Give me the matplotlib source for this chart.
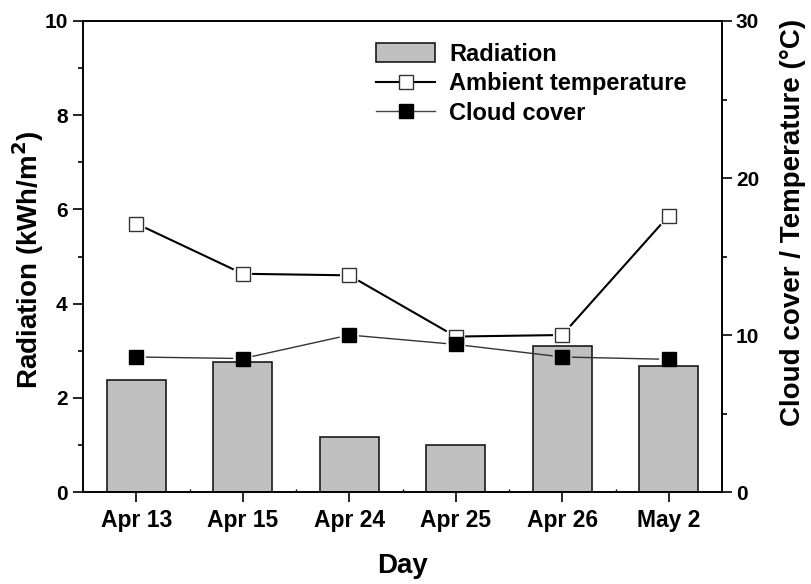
import matplotlib
matplotlib.use('Agg')
import matplotlib.pyplot as plt
import numpy as np
from matplotlib.lines import Line2D
from matplotlib.patches import Patch
from matplotlib.ticker import MultipleLocator, FixedLocator

# ---- data ----
days = ['Apr 13', 'Apr 15', 'Apr 24', 'Apr 25', 'Apr 26', 'May 2']
radiation = [2.38, 2.77, 1.16, 1.00, 3.11, 2.67]          # kWh/m2 (left axis)
temperature = [17.1, 13.9, 13.8, 9.9, 10.0, 17.6]        # deg C (right axis)
cloud_cover = [8.6, 8.5, 10.0, 9.4, 8.6, 8.45]           # right axis

plt.rcParams['font.family'] = ['Liberation Sans', 'DejaVu Sans']
plt.rcParams['font.weight'] = 'bold'
plt.rcParams['mathtext.default'] = 'bf'

W, H = 811, 584
fig = plt.figure(figsize=(W / 100, H / 100), dpi=100)
L, R, T, B = 83, 722, 21, 492
ax = fig.add_axes([L / W, 1 - B / H, (R - L) / W, (B - T) / H])

x = np.arange(len(days))
ax.bar(x, radiation, width=0.55, color='#c0c0c0', edgecolor='#1a1a1a',
       linewidth=1.2, zorder=2)
ax.set_xlim(-0.5, len(days) - 0.5)
ax.set_ylim(0, 10)

ax2 = ax.twinx()
ax2.set_ylim(0, 30)

for a in (ax, ax2):
    for s in a.spines.values():
        s.set_linewidth(1.2)

# ticks
ax.set_xticks(x)
ax.set_xticklabels(days)
ax.xaxis.set_minor_locator(FixedLocator(x[:-1] + 0.5))
ax.yaxis.set_major_locator(MultipleLocator(2))
ax.yaxis.set_minor_locator(MultipleLocator(1))
ax2.yaxis.set_major_locator(MultipleLocator(10))
ax2.yaxis.set_minor_locator(MultipleLocator(5))

ax.tick_params(axis='y', which='major', direction='out', length=7, width=1.2,
               labelsize=15, pad=4)
ax.tick_params(axis='y', which='minor', direction='out', length=3.5, width=1.2)
ax.tick_params(axis='x', which='major', direction='out', length=7, width=1.2,
               labelsize=16.5, pad=5)
ax.tick_params(axis='x', which='minor', direction='in', length=2.5, width=1.0)
ax2.tick_params(axis='y', which='major', direction='out', length=7, width=1.2,
                labelsize=15, pad=3)
ax2.tick_params(axis='y', which='minor', direction='out', length=3.5, width=1.2)
for lab in ax.get_xticklabels() + ax.get_yticklabels() + ax2.get_yticklabels():
    lab.set_fontweight('bold')

# axis labels
ax.set_ylabel('Radiation (kWh/m$^{2}$)', fontsize=20, fontweight='bold')
ax.yaxis.label.set_va('center')
ax.yaxis.set_label_coords((28 - L) / (R - L), (B - 260) / (B - T))
ax2.set_ylabel('Cloud cover / Temperature (°C)', fontsize=20, fontweight='bold',
               rotation=90)
ax2.yaxis.label.set_va('center')
ax2.yaxis.set_label_coords((793 - L) / (R - L), (B - 222) / (B - T))
ax.set_xlabel('Day', fontsize=20, fontweight='bold')
ax.xaxis.label.set_va('center')
ax.xaxis.set_label_coords(0.5, (B - 566) / (B - T))

MS = 10.5  # marker size in points
half_px = MS * 100 / 72 / 2


def gapped_line(axis, xs, ys, extra, **kw):
    pts = axis.transData.transform(np.column_stack([xs, ys]))
    inv = axis.transData.inverted()
    for p0, p1 in zip(pts[:-1], pts[1:]):
        d = p1 - p0
        u = d / np.hypot(*d)
        g = half_px / max(abs(u[0]), abs(u[1])) + extra
        seg = inv.transform(np.array([p0 + u * g, p1 - u * g]))
        axis.plot(seg[:, 0], seg[:, 1], **kw)


gapped_line(ax2, x, temperature, 3, color='black', lw=1.5, zorder=3)
gapped_line(ax2, x, cloud_cover, 3, color='#333333', lw=1.0, zorder=3)
ax2.plot(x, temperature, ls='none', marker='s', ms=MS, mfc='white',
         mec='#333333', mew=1.0, zorder=4)
ax2.plot(x, cloud_cover, ls='none', marker='s', ms=MS, mfc='black',
         mec='black', mew=1.0, zorder=5)

# legend
h_bar = Patch(facecolor='#c0c0c0', edgecolor='#1a1a1a', linewidth=1.2)
h_t = Line2D([], [], color='black', lw=1.5, marker='s', ms=10, mfc='white',
             mec='#333333', mew=1.0)
h_c = Line2D([], [], color='#444444', lw=1.0, marker='s', ms=10, mfc='black',
             mec='black')
leg = ax2.legend([h_bar, h_t, h_c], ['Radiation', 'Ambient temperature', 'Cloud cover'],
                 loc='upper left', bbox_to_anchor=(376 / W, 1 - 43 / H),
                 bbox_transform=fig.transFigure, frameon=False,
                 prop={'size': 17, 'weight': 'bold'}, borderpad=0,
                 borderaxespad=0, handlelength=2.5, handleheight=0.85,
                 handletextpad=0.6, labelspacing=0.27)

fig.savefig('out.png', dpi=100)
